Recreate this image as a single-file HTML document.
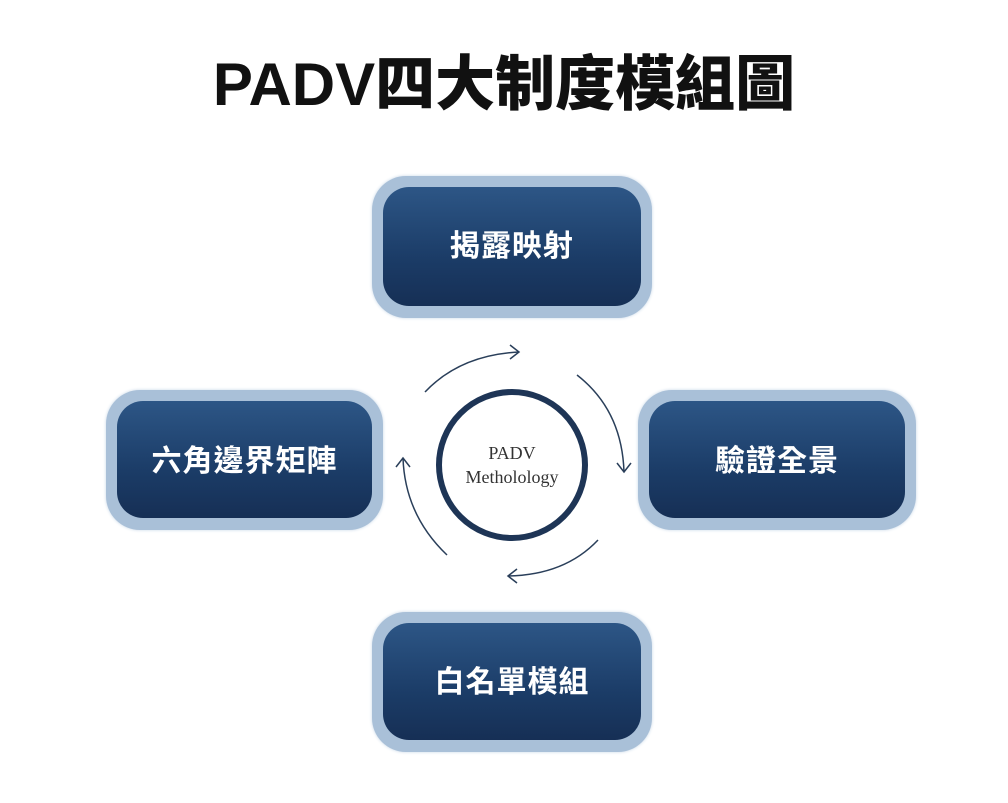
<!DOCTYPE html>
<html><head><meta charset="utf-8"><style>
body{margin:0;width:1008px;height:803px;background:#fff;position:relative;overflow:hidden;font-family:"Liberation Sans","Noto Sans CJK TC",sans-serif}
.t{position:absolute;left:0;width:1008px;top:48px;text-align:center;font-size:60px;font-weight:900;color:#111;line-height:74px}
.o{position:absolute;border-radius:34px;background:#a9c0d8;box-shadow:0 0 3px #c6d6e6}
.i{position:absolute;left:11px;top:11px;right:11px;bottom:12px;border-radius:26px;background:linear-gradient(#2d5686,#1b3c67 60%,#162f55);color:#fff;font-weight:700;font-size:30px;display:flex;align-items:center;justify-content:center;letter-spacing:1px}
</style></head><body>
<div class="t">PADV四大制度模組圖</div>
<div class="o" style="left:372px;top:176px;width:280px;height:142px"><div class="i" style="padding-bottom:8px">揭露映射</div></div>
<div class="o" style="left:106px;top:390px;width:277px;height:140px"><div class="i" style="padding-bottom:4px">六角邊界矩陣</div></div>
<div class="o" style="left:638px;top:390px;width:278px;height:140px"><div class="i" style="padding-bottom:4px">驗證全景</div></div>
<div class="o" style="left:372px;top:612px;width:280px;height:140px"><div class="i" style="padding-bottom:6px">白名單模組</div></div>
<svg width="1008" height="803" style="position:absolute;left:0;top:0">
<circle cx="512" cy="465" r="73" fill="none" stroke="#1e3556" stroke-width="6"/>
<text x="512" y="459" text-anchor="middle" font-family="Liberation Serif,serif" font-size="18" fill="#333">PADV</text>
<text x="512" y="483" text-anchor="middle" font-family="Liberation Serif,serif" font-size="18" fill="#333">Metholology</text>
<g fill="none" stroke="#2a3f5a" stroke-width="1.5">
<path d="M425 392 Q460 355 519 352"/><path d="M510 345 L519 352 L510 359"/>
<path d="M577 375 Q622 410 624 472"/><path d="M617 463 L624 472 L631 463"/>
<path d="M598 540 Q565 575 508 576"/><path d="M517 569 L508 576 L517 583"/>
<path d="M447 555 Q405 515 403 458"/><path d="M396 467 L403 458 L410 467"/>
</g></svg>
</body></html>
